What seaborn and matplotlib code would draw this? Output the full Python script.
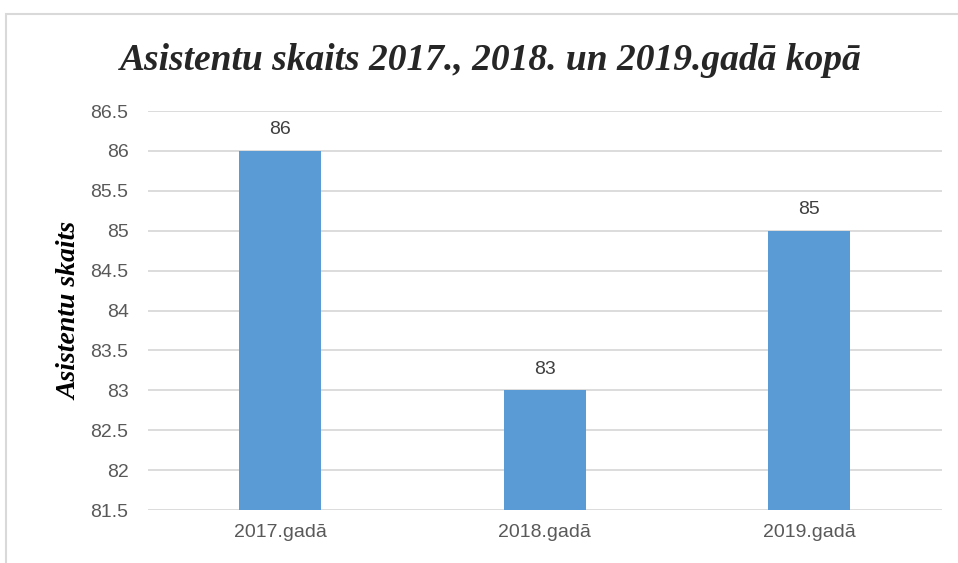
import matplotlib
matplotlib.use("Agg")
import matplotlib.pyplot as plt
import seaborn as sns
import pandas as pd
from matplotlib.patches import Rectangle

years = ["2017.gadā", "2018.gadā", "2019.gadā"]
assistants = [86, 83, 85]
y_ticks = [81.5, 82, 82.5, 83, 83.5, 84, 84.5, 85, 85.5, 86, 86.5]

df = pd.DataFrame({"year": years, "count": assistants})

sns.set_style("white")
plt.rcParams["font.family"] = ["Liberation Sans Narrow", "Liberation Sans", "DejaVu Sans"]

fig = plt.figure(figsize=(9.58, 5.63), dpi=100)
ax = fig.add_axes([0.1545, 0.0941, 0.8285, 0.7087])

sns.barplot(data=df, x="year", y="count", color="#5B9BD5", width=0.31,
            saturation=1, linewidth=0, ax=ax, zorder=3)

ax.set_ylim(81.5, 86.5)
ax.set_yticks(y_ticks)
ax.set_yticklabels([f"{t:g}" for t in y_ticks])
ax.yaxis.grid(True, color="#D9D9D9", linewidth=1.3, zorder=0)
ax.set_axisbelow(True)
for s in ax.spines.values():
    s.set_visible(False)
ax.tick_params(axis="both", length=0, labelsize=14, colors="#595959")
ax.tick_params(axis="y", pad=14)
ax.tick_params(axis="x", pad=10)
ax.set_xlabel("")
ax.set_ylabel("Asistentu skaits", family="Liberation Serif", fontweight="bold",
              fontstyle="italic", fontsize=20, color="black", labelpad=6)

for i, v in enumerate(assistants):
    ax.annotate(f"{v}", (i, v), xytext=(0, 9), textcoords="offset points",
                ha="center", va="bottom", fontsize=14, color="#404040")

fig.text(0.512, 0.893, "Asistentu skaits 2017., 2018. un 2019.gadā kopā",
         family="Liberation Serif", fontweight="bold", fontstyle="italic",
         fontsize=27, ha="center", va="center")

fig.patches.append(Rectangle((6 / 958, -0.1), 1.1, 1 - 14 / 563 + 0.1,
                             transform=fig.transFigure, fill=False,
                             edgecolor="#D9D9D9", linewidth=1.5))

fig.savefig("out.png", dpi=100)
